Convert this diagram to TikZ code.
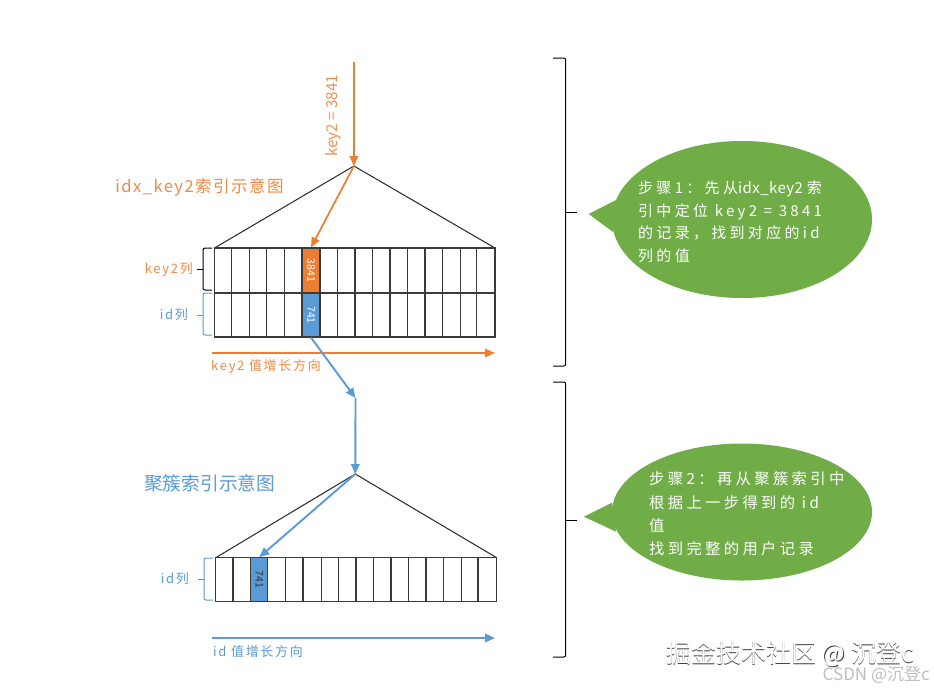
\documentclass[tikz,border=0pt]{standalone}
\usepackage{fontspec}
\setmainfont{Noto Sans CJK SC}
\usetikzlibrary{arrows.meta,shapes.geometric}
\definecolor{ora}{HTML}{ED7D31}
\definecolor{blu}{HTML}{5B9BD5}
\definecolor{gre}{HTML}{70AD47}
\definecolor{grid}{HTML}{3A3A3A}
\newfontfamily\spaced[LetterSpace=22]{Noto Sans CJK SC}
\newfontfamily\spacedt[LetterSpace=3]{Noto Sans CJK SC}
\newfontfamily\spacedb[LetterSpace=9]{Noto Sans CJK SC}
\newfontfamily\spacedc[LetterSpace=13]{Noto Sans CJK SC}
\tikzset{
  x=1pt,y=-1pt,
  gridline/.style={draw=grid,line width=1.05pt},
  treeline/.style={draw=black!85,line width=1pt},
  oarrow/.style={draw=ora,line width=1.7pt,-{Triangle[length=10pt,width=8.5pt]}},
  barrow/.style={draw=blu,line width=1.9pt,-{Triangle[length=10pt,width=8.5pt]}},
  brline/.style={line width=1pt,rounded corners=2pt},
  cellbox/.style={minimum width=18pt,inner sep=0pt,draw=grid,line width=1.05pt},
  vallabel/.style={font=\fontsize{10.5}{12}\selectfont,rotate=-90,inner sep=0pt},
  lab/.style={font=\fontsize{13}{15}\selectfont\spacedc,inner sep=0pt},
  bubble/.style={ellipse,fill=gre,inner sep=0pt},
  bubtext/.style={text=white,align=left,inner sep=0pt,anchor=west},
}
\begin{document}
\begin{tikzpicture}
\useasboundingbox[fill=white] (0,0) rectangle (934,689);
% ---- upper index
\coordinate (topstart) at (353.9,62);
\coordinate (apexA) at (353.9,166);
\coordinate (baseAL) at (214.5,248);
\coordinate (baseAR) at (495,248);
\draw[treeline] (baseAL) -- (apexA) -- (baseAR);
\draw[gridline] (214.5,248) rectangle (495,337);
\draw[gridline] (214.5,293) -- (495,293);
\foreach \x in {231.7,249.3,266.7,284.7,337.3,355,372.7,390,407.3,425,442.3,460.7,476.7}
  \draw[gridline] (\x,248) -- (\x,337);
\node[cellbox,fill=ora,minimum height=45pt] (c3841) at (311,270.5) {};
\node[cellbox,fill=blu,minimum height=44pt] (c741a) at (311,315) {};
\node[vallabel,text=white] (t3841) at (c3841.center) {3841};
\node[vallabel,text=white] (t741a) at (c741a.center) {741};
\draw[oarrow] (topstart) -- (apexA);
\draw[oarrow] (apexA) -- (c3841.north);
\node[rotate=90,text=ora!85,font=\fontsize{15.2}{17}\selectfont,inner sep=0pt] (qlabel) at (333.5,116) {key2 = 3841};
\node[text=ora!90,font=\fontsize{16.5}{19}\selectfont\spacedb,inner sep=0pt] (titleA) at (199.5,187) {idx\_key2索引示意图};
\draw[brline,draw=black] (212,248) -- (203,248) -- (203,269) -- (203,290) -- (212,290);
\draw[line width=1pt,draw=black] (203,269) -- (197,269);
\draw[brline,draw=blu] (212,293) -- (203,293) -- (203,335) -- (212,335);
\draw[line width=1pt,draw=blu] (203,315) -- (197,315);
\node[lab,text=ora!90,anchor=east] (lkey) at (193,270) {key2列};
\node[lab,text=blu,anchor=east] (lid) at (188,315) {id列};
\coordinate (axAs) at (212,353); \coordinate (axAe) at (495,353);
\draw[oarrow] (axAs) -- (axAe);
\node[lab,text=ora!90,anchor=west] (axAl) at (211,367) {key2 值增长方向};
% ---- link between the indexes
\coordinate (bend) at (355.5,398);
\coordinate (apexB) at (355.3,474);
\draw[barrow] (c741a.south) -- (bend);
\draw[barrow] (bend) -- (apexB);
% ---- lower index
\coordinate (baseBL) at (215.7,557.7);
\coordinate (baseBR) at (496.7,557.7);
\draw[treeline] (baseBL) -- (apexB) -- (baseBR);
\draw[gridline] (215.7,557.7) rectangle (496.7,601.7);
\foreach \x in {233,285.3,303,321.3,338.7,356,373.3,391,408.7,426,443.3,461.7,478}
  \draw[gridline] (\x,557.7) -- (\x,601.7);
\node[cellbox,fill=blu,minimum height=44pt,minimum width=17.3pt] (c741b) at (259.3,579.7) {};
\node[vallabel,text=black!80] (t741b) at (c741b.center) {741};
\draw[barrow] (apexB) -- (c741b.north);
\node[text=blu,font=\fontsize{18.7}{22}\selectfont,inner sep=0pt,anchor=west] (titleB) at (144,483) {聚簇索引示意图};
\draw[brline,draw=blu] (213,558) -- (204,558) -- (204,600) -- (213,600);
\draw[line width=1pt,draw=blu] (204,579) -- (198,579);
\node[lab,text=blu,anchor=east] (lidb) at (189,579) {id列};
\coordinate (axBs) at (212,638); \coordinate (axBe) at (495,638);
\draw[barrow] (axBs) -- (axBe);
\node[lab,text=blu,anchor=west] (axBl) at (213,652) {id 值增长方向};
% ---- right braces
\draw[brline,draw=black] (553,58) -- (565.7,58) -- (565.7,366) -- (553,366);
\draw[line width=1pt,draw=black] (565.7,212) -- (577,212);
\draw[brline,draw=black] (553,382) -- (565.7,382) -- (565.7,657) -- (553,657);
\draw[line width=1pt,draw=black] (565.7,520) -- (577,520);
% ---- callouts
\node[bubble,minimum width=260pt,minimum height=157pt] (s1) at (742,219.5) {};
\coordinate (s1tip) at (588.7,214);
\fill[gre] (s1tip) -- (616,200) -- (613,232) -- cycle;
\node[bubtext,font=\fontsize{15}{22.6}\selectfont\spaced] (s1t) at (638,222) {步骤1：先从{\spacedt idx\_key2 }索\\引中定位 key2 = 3841\\的记录，找到对应的id\\列的值};
\node[bubble,minimum width=260pt,minimum height=137pt] (s2) at (742,512) {};
\coordinate (s2tip) at (584,516.7);
\fill[gre] (s2tip) -- (612,502.7) -- (616,531.7) -- cycle;
\node[bubtext,font=\fontsize{15.3}{23.3}\selectfont\spaced] (s2t) at (649,514) {步骤2：再从聚簇索引中\\根据上一步得到的 id\\值\\找到完整的用户记录};
% ---- watermarks
\node[text=black!75,font=\fontsize{25}{29}\selectfont,inner sep=0pt,anchor=west] (wm0) at (666.7,655.2) {掘金技术社区 @ 沉登c};
\node[text=white,font=\fontsize{25}{29}\selectfont,inner sep=0pt,anchor=west] (wm1) at (666,654.5) {掘金技术社区 @ 沉登c};
\node[text=black!25,font=\fontsize{17}{20}\selectfont,inner sep=0pt,anchor=east] (wm2) at (930,674.5) {CSDN @沉登c};
\end{tikzpicture}
\end{document}
